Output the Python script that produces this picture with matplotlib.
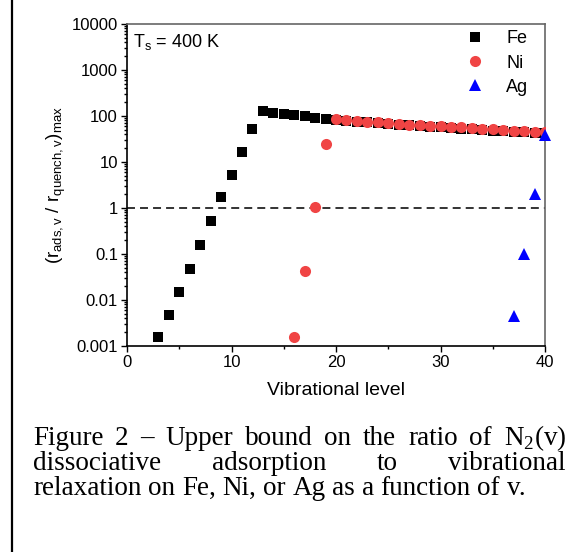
import matplotlib
matplotlib.use("Agg")
import matplotlib.pyplot as plt
from matplotlib.lines import Line2D
from matplotlib.ticker import LogLocator, FixedLocator, NullFormatter

plt.rcParams["font.family"] = ["Liberation Sans", "DejaVu Sans"]
plt.rcParams["mathtext.fontset"] = "custom"
plt.rcParams["mathtext.rm"] = "Liberation Sans"
plt.rcParams["mathtext.it"] = "Liberation Sans"
plt.rcParams["mathtext.sf"] = "Liberation Sans"

# Ratio of dissociative adsorption to vibrational relaxation, by vibrational level v
fe_v = list(range(3, 41))
fe_ratio = [0.00152, 0.00465, 0.0147, 0.0465, 0.155, 0.52, 1.68, 5.14, 16.6, 51,
            128, 113, 110, 104, 99, 92, 86,
            81, 78, 75, 72, 69, 67, 64, 62, 60, 58, 56, 54, 53, 51, 50, 48, 47, 45, 44, 43, 42]

ni_v = list(range(16, 41))
ni_ratio = [0.00152, 0.0414, 1.05, 25,
            84, 81, 78, 75, 72, 70, 67, 65, 63, 61, 59, 57, 56, 54, 52, 51, 49, 48, 46, 45, 44]

ag_v = [37, 38, 39, 40]
ag_ratio = [0.0044, 0.097, 1.99, 38]

x_ticks = [0, 10, 20, 30, 40]
y_ticks = [0.001, 0.01, 0.1, 1, 10, 100, 1000, 10000]
y_tick_labels = ["0.001", "0.01", "0.1", "1", "10", "100", "1000", "10000"]

caption_lines = [
    ["Figure", "2", "–", "Upper", "bound", "on", "the", "ratio", "of", r"N$_\mathregular{2}$(v)"],
    ["dissociative", "adsorption", "to", "vibrational"],
    ["relaxation", "on", "Fe,", "Ni,", "or", "Ag", "as", "a", "function", "of", "v."],
]

W, H = 573, 552
fig = plt.figure(figsize=(W / 100, H / 100), dpi=100)

def px(x, y):
    return x / W, 1 - y / H

left, right, top, bottom = 127, 545, 24, 345.7
ax = fig.add_axes([left / W, 1 - bottom / H, (right - left) / W, (bottom - top) / H])

red = "#F04444"
blue = "#0000FF"

ax.plot(fe_v, fe_ratio, linestyle="none", marker="s", ms=7.2, color="black",
        mec="black", mew=0, label="Fe", zorder=3)
ax.plot(ni_v, ni_ratio, linestyle="none", marker="o", ms=8.0, color=red,
        mec=red, mew=0, label="Ni", zorder=4)
ax.plot(ag_v, ag_ratio, linestyle="none", marker="^", ms=8.8, color=blue,
        mec=blue, mew=0, label="Ag", zorder=5, clip_on=False)

ax.axhline(1, color="#333333", lw=1.4, dashes=(4.1, 2.6), zorder=2)

ax.set_yscale("log")
ax.set_xlim(0, 40)
ax.set_ylim(0.001, 10000)
ax.set_xticks(x_ticks)
ax.xaxis.set_minor_locator(FixedLocator([5, 15, 25, 35]))
ax.set_yticks(y_ticks)
ax.set_yticklabels(y_tick_labels)
ax.yaxis.set_minor_locator(LogLocator(base=10, subs=range(2, 10), numticks=20))
ax.yaxis.set_minor_formatter(NullFormatter())

ax.tick_params(which="both", direction="out", top=False, right=False,
               labelsize=12, color="black", width=1.0, pad=2)
ax.tick_params(which="major", length=4.5)
ax.tick_params(which="minor", length=2.5)

for side in ("left", "bottom"):
    ax.spines[side].set_color("black")
    ax.spines[side].set_linewidth(1.2)
for side in ("top", "right"):
    ax.spines[side].set_color("#666666")
    ax.spines[side].set_linewidth(1.2)

ax.set_xlabel("Vibrational level", fontsize=14, labelpad=9)
ax.set_ylabel(r"$(\mathrm{r}_{\mathrm{ads,v}}\ /\ \mathrm{r}_{\mathrm{quench,v}})_{\mathrm{max}}$",
              fontsize=13.5, labelpad=3)

ax.text(0.015, 0.975, r"T$_\mathregular{s}$ = 400 K", transform=ax.transAxes,
        ha="left", va="top", fontsize=13)

handles = [
    Line2D([], [], linestyle="none", marker="s", ms=7.2, color="black", mew=0),
    Line2D([], [], linestyle="none", marker="o", ms=8.0, color=red, mew=0),
    Line2D([], [], linestyle="none", marker="^", ms=8.8, color=blue, mew=0),
]
ax.legend(handles, ["Fe", "Ni", "Ag"], loc="upper right", frameon=False,
          fontsize=13, handletextpad=1.1, handlelength=1.2,
          labelspacing=0.4, borderaxespad=0.15, borderpad=0.2,
          bbox_to_anchor=(0.975, 1.0))

# Frame line at the left edge of the figure
fig.add_artist(Line2D([12.3 / W, 12.3 / W], [0, 1], color="black", lw=1.6,
                      transform=fig.transFigure))

# Caption, set as a justified paragraph
serif = ["Liberation Serif", "DejaVu Serif"]
cap_size = 19.5
cap_left, cap_right = 33, 566
baselines = [445, 470, 495]
renderer = fig.canvas.get_renderer()
for i, (words, y) in enumerate(zip(caption_lines, baselines)):
    texts = [fig.text(0, 1 - y / H, w, family=serif, fontsize=cap_size,
                      ha="left", va="baseline") for w in words]
    widths = [t.get_window_extent(renderer).width for t in texts]
    if i < len(caption_lines) - 1:
        gap = (cap_right - cap_left - sum(widths)) / (len(words) - 1)
    else:
        space = fig.text(0, 0, "a b", family=serif, fontsize=cap_size)
        nospace = fig.text(0, 0, "ab", family=serif, fontsize=cap_size)
        gap = space.get_window_extent(renderer).width - nospace.get_window_extent(renderer).width
        space.remove()
        nospace.remove()
    x = cap_left
    for t, w in zip(texts, widths):
        t.set_x(x / W)
        x += w + gap

fig.savefig("out.png", dpi=100)
